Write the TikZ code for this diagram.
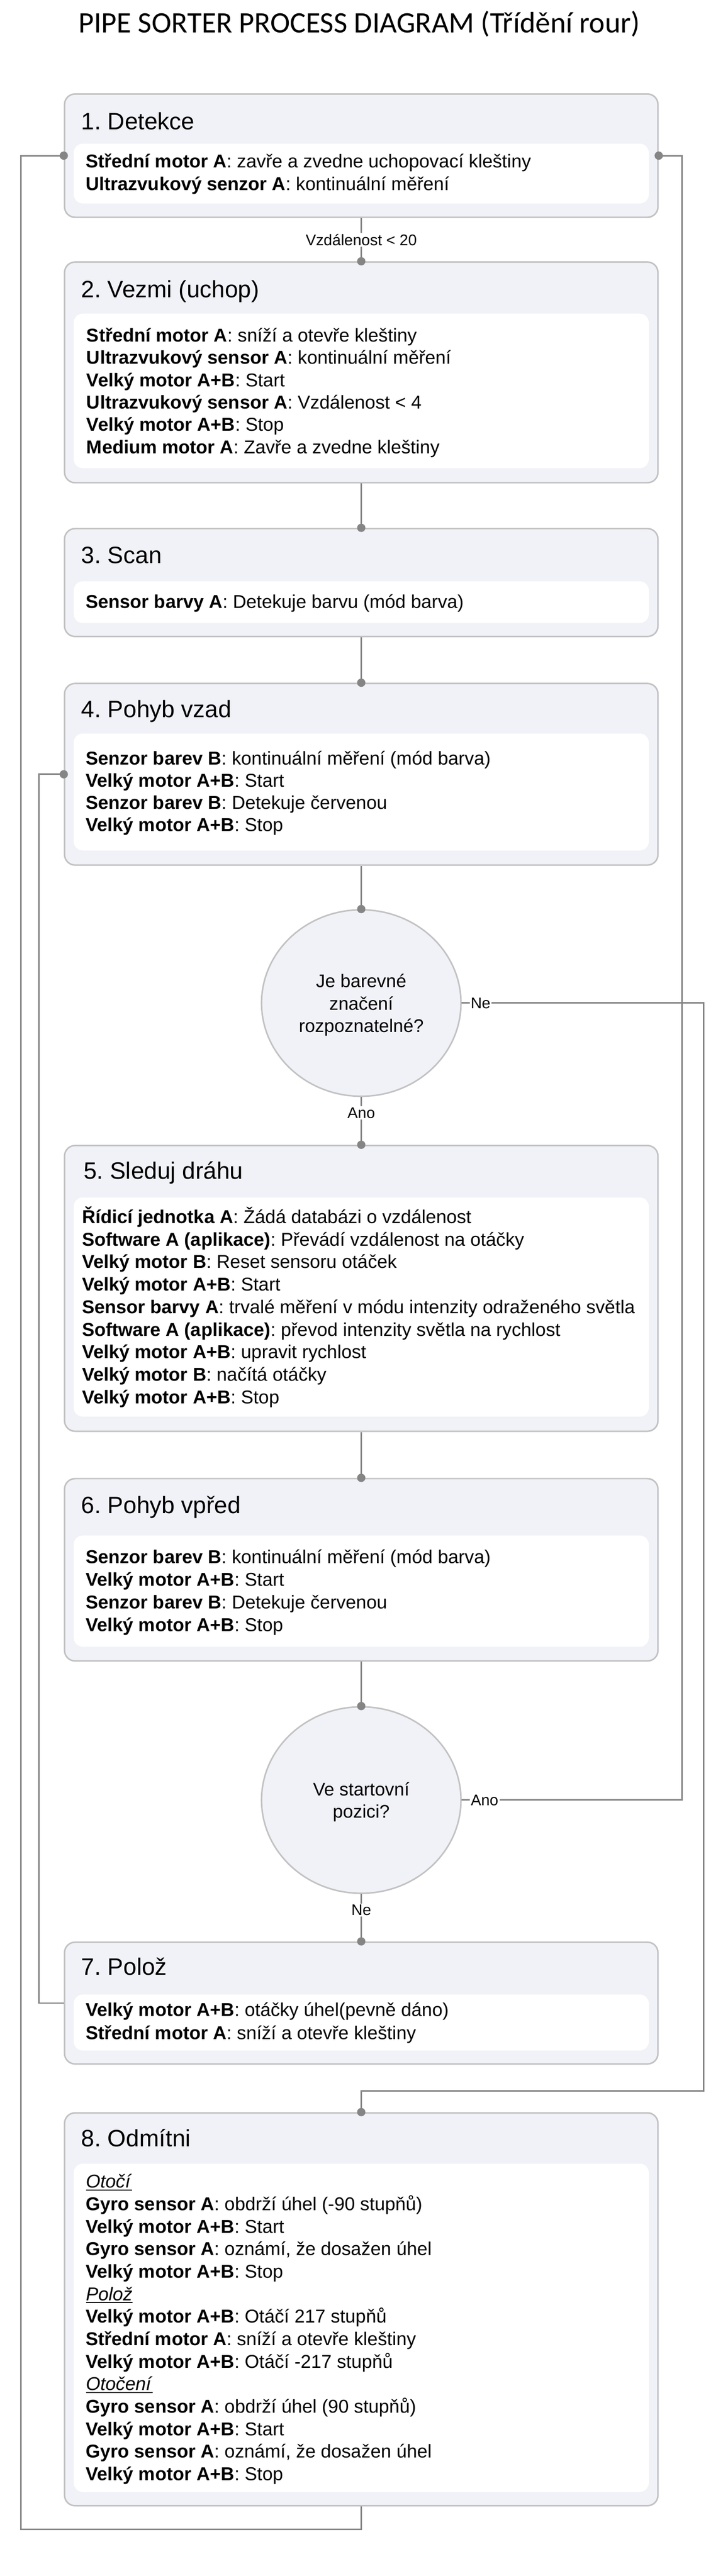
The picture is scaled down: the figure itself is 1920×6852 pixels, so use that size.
\documentclass[tikz,border=0pt]{standalone}
\usepackage{fontspec}
\setmainfont{Liberation Sans}
\newfontfamily\titlefont{Carlito}
\usetikzlibrary{shapes.geometric,arrows.meta}
\definecolor{boxfill}{HTML}{F1F2F7}
\definecolor{boxline}{HTML}{C2C2C2}
\definecolor{conncol}{HTML}{858585}
\frenchspacing
\newcommand\myul[1]{\setbox0=\hbox{#1}\rlap{\rule[-7pt]{\wd0}{3pt}}\box0}
\newcommand\kv[2]{\textbf{#1}: #2}
\tikzset{
  obox/.style={draw=boxline, line width=4pt, fill=boxfill, rounded corners=28pt, inner sep=0pt, minimum width=1577pt, anchor=north},
  ibox/.style={fill=white, draw=none, rounded corners=24pt, inner sep=0pt, minimum width=1528pt, anchor=north},
  ttl/.style={anchor=base west, inner sep=0pt, font=\fontsize{63}{75}\selectfont},
  txt/.style={anchor=base west, inner sep=0pt, font=\fontsize{49.5}{60}\selectfont},
  ctxt/.style={anchor=base, inner sep=0pt, font=\fontsize{48.5}{60}\selectfont},
  dec/.style={ellipse, draw=boxline, line width=4pt, fill=boxfill, minimum width=530pt, minimum height=496pt, inner sep=0pt},
  conn/.style={draw=conncol, line width=4pt, -{Circle[length=22pt,width=22pt]}, shorten >=-11pt},
  lbl/.style={fill=white, inner sep=3pt, font=\fontsize{41}{50}\selectfont},
}
\begin{document}
\begin{tikzpicture}[x=1pt,y=-1pt]
\useasboundingbox (0,0) rectangle (1920,6852);
\fill[white] (0,0) rectangle (1920,6852);

\node[anchor=base, inner sep=0pt, font=\titlefont\fontsize{79}{90}\selectfont] (title) at (955,87) {PIPE SORTER PROCESS DIAGRAM (Třídění rour)};

% Box 1
\node[obox, minimum height=328pt] (b1) at (960,248) {};
\node[ibox, minimum height=159pt] (b1i) at (960,382) {};
\node[ttl] (b1h) at (216,344) {1. Detekce};
\foreach \t [count=\i from 0] in {
  {\kv{Střední motor A}{zavře a zvedne uchopovací kleštiny}},
  {\kv{Ultrazvukový senzor A}{kontinuální měření}}}
  \node[txt] (b1t\i) at (228,446+\i*60) {\t};

% Box 2
\node[obox, minimum height=587pt] (b2) at (960,695) {};
\node[ibox, minimum height=411pt] (b2i) at (960,834) {};
\node[ttl] (b2h) at (216,791) {2. Vezmi (uchop)};
\foreach \t [count=\i from 0] in {
  {\kv{Střední motor A}{sníží a otevře kleštiny}},
  {\kv{Ultrazvukový sensor A}{kontinuální měření}},
  {\kv{Velký motor A+B}{Start}},
  {\kv{Ultrazvukový sensor A}{Vzdálenost < 4}},
  {\kv{Velký motor A+B}{Stop}},
  {\kv{Medium motor A}{Zavře a zvedne kleštiny}}}
  \node[txt] (b2t\i) at (230,909+\i*59.4) {\t};

% Box 3
\node[obox, minimum height=287pt] (b3) at (960,1404) {};
\node[ibox, minimum height=111pt] (b3i) at (960,1546) {};
\node[ttl] (b3h) at (216,1498) {3. Scan};
\node[txt] (b3t0) at (228,1618) {\kv{Sensor barvy A}{Detekuje barvu (mód barva)}};

% Box 4
\node[obox, minimum height=483pt] (b4) at (960,1816) {};
\node[ibox, minimum height=311pt] (b4i) at (960,1951) {};
\node[ttl] (b4h) at (216,1908) {4. Pohyb vzad};
\foreach \t [count=\i from 0] in {
  {\kv{Senzor barev B}{kontinuální měření (mód barva)}},
  {\kv{Velký motor A+B}{Start}},
  {\kv{Senzor barev B}{Detekuje červenou}},
  {\kv{Velký motor A+B}{Stop}}}
  \node[txt] (b4t\i) at (228,2034+\i*59) {\t};

% Decision 1
\node[dec] (c1) at (960,2668) {};
\node[ctxt] (c1t1) at (960,2627) {Je barevné};
\node[ctxt] (c1t2) at (960,2686) {značení};
\node[ctxt] (c1t3) at (960,2746) {rozpoznatelné?};

% Box 5
\node[obox, minimum height=760pt] (b5) at (960,3045) {};
\node[ibox, minimum height=583pt] (b5i) at (960,3185) {};
\node[ttl] (b5h) at (222,3136) {5. Sleduj dráhu};
\foreach \t [count=\i from 0] in {
  {\kv{Řídicí jednotka A}{Žádá databázi o vzdálenost}},
  {\kv{Software A (aplikace)}{Převádí vzdálenost na otáčky}},
  {\kv{Velký motor B}{Reset sensoru otáček}},
  {\kv{Velký motor A+B}{Start}},
  {\kv{Sensor barvy A}{trvalé měření v módu intenzity odraženého světla}},
  {\kv{Software A (aplikace)}{převod intenzity světla na rychlost}},
  {\kv{Velký motor A+B}{upravit rychlost}},
  {\kv{Velký motor B}{načítá otáčky}},
  {\kv{Velký motor A+B}{Stop}}}
  \node[txt] (b5t\i) at (218,3254+\i*59.9) {\t};

% Box 6
\node[obox, minimum height=485pt] (b6) at (960,3931) {};
\node[ibox, minimum height=296pt] (b6i) at (960,4084) {};
\node[ttl] (b6h) at (216,4025) {6. Pohyb vpřed};
\foreach \t [count=\i from 0] in {
  {\kv{Senzor barev B}{kontinuální měření (mód barva)}},
  {\kv{Velký motor A+B}{Start}},
  {\kv{Senzor barev B}{Detekuje červenou}},
  {\kv{Velký motor A+B}{Stop}}}
  \node[txt] (b6t\i) at (228,4159+\i*60.3) {\t};

% Decision 2
\node[dec] (c2) at (960,4788) {};
\node[ctxt] (c2t1) at (960,4777) {Ve startovní};
\node[ctxt] (c2t2) at (960,4836) {pozici?};

% Box 7
\node[obox, minimum height=324pt] (b7) at (960,5164) {};
\node[ibox, minimum height=149pt] (b7i) at (960,5305) {};
\node[ttl] (b7h) at (216,5254) {7. Polož};
\foreach \t [count=\i from 0] in {
  {\kv{Velký motor A+B}{otáčky úhel(pevně dáno)}},
  {\kv{Střední motor A}{sníží a otevře kleštiny}}}
  \node[txt] (b7t\i) at (228,5363+\i*61) {\t};

% Box 8
\node[obox, minimum height=1045pt] (b8) at (960,5618) {};
\node[ibox, minimum height=873pt] (b8i) at (960,5755) {};
\node[ttl] (b8h) at (216,5710) {8. Odmítni};
\foreach \t [count=\i from 0] in {
  {\myul{\textit{Otočí}}},
  {\kv{Gyro sensor A}{obdrží úhel (-90 stupňů)}},
  {\kv{Velký motor A+B}{Start}},
  {\kv{Gyro sensor A}{oznámí, že dosažen úhel}},
  {\kv{Velký motor A+B}{Stop}},
  {\myul{\textit{Polož}}},
  {\kv{Velký motor A+B}{Otáčí 217 stupňů}},
  {\kv{Střední motor A}{sníží a otevře kleštiny}},
  {\kv{Velký motor A+B}{Otáčí -217 stupňů}},
  {\myul{\textit{Otočení}}},
  {\kv{Gyro sensor A}{obdrží úhel (90 stupňů)}},
  {\kv{Velký motor A+B}{Start}},
  {\kv{Gyro sensor A}{oznámí, že dosažen úhel}},
  {\kv{Velký motor A+B}{Stop}}}
  \node[txt] (b8t\i) at (228,5820+\i*59.8) {\t};

% Main connectors
\draw[conn] (b1.south) -- node[lbl]{Vzdálenost < 20} (b2.north);
\draw[conn] (b2.south) -- (b3.north);
\draw[conn] (b3.south) -- (b4.north);
\draw[conn] (b4.south) -- (c1.north);
\draw[conn] (c1.south) -- node[lbl,pos=0.33]{Ano} (b5.north);
\draw[conn] (b5.south) -- (b6.north);
\draw[conn] (b6.south) -- (c2.north);
\draw[conn] (c2.south) -- node[lbl,pos=0.34]{Ne} (b7.north);

% Loops
\coordinate (lx1) at (55,6728);
\draw[conn] (b8.south) |- (lx1) |- (b1.west);
\coordinate (lx2) at (104,0);
\draw[conn] (b7.west) -- (b7.west -| lx2) |- (b4.west);
\coordinate (rx1) at (1812,0);
\draw[conn] (c2.east) -- node[lbl,pos=0.104]{Ano} (c2.east -| rx1) |- (b1.east);
\coordinate (rx2) at (1870,5562);
\draw[conn] (c1.east) -- node[lbl,pos=0.078]{Ne} (c1.east -| rx2) -- (rx2) -| (b8.north);
\end{tikzpicture}
\end{document}
